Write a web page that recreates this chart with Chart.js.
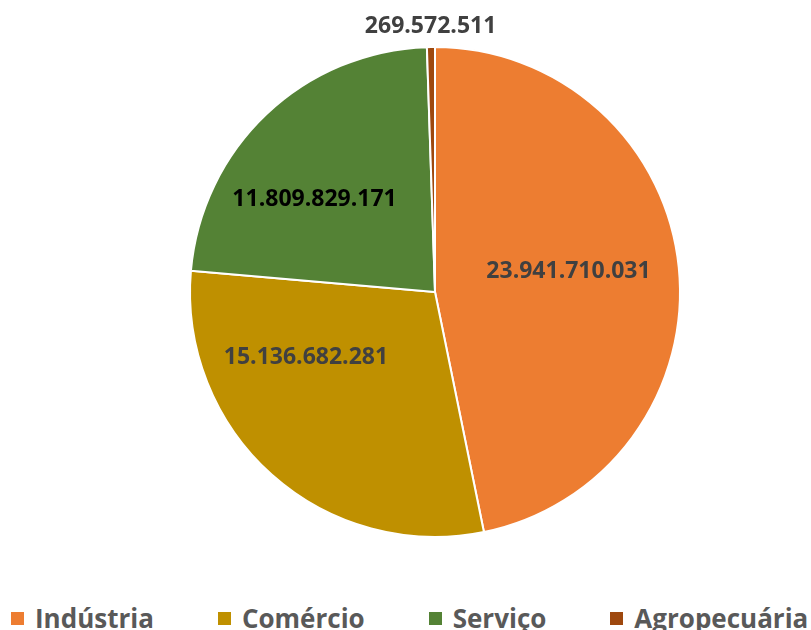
<!DOCTYPE html>
<html>
<head>
<meta charset="utf-8">
<script src="https://cdn.jsdelivr.net/npm/chart.js@4/dist/chart.umd.min.js"></script>
<style>
    body { margin: 0; background: #fff; overflow: hidden; }
    #wrap { position: relative; width: 811px; height: 630px; overflow: hidden; }
    #legenda {
        position: absolute; left: 11px; top: 600px;
        display: flex; align-items: center;
        font-family: "Open Sans", sans-serif; font-weight: 700; font-size: 26px; color: #595959;
        white-space: nowrap;
    }
    #legenda .item { display: flex; align-items: center; margin-right: 64px; }
    #legenda .caixa { width: 13px; height: 13px; margin-right: 11px; }
</style>
</head>
<body>
<div id="wrap">
    <canvas id="pizza" width="811" height="600"></canvas>
    <div id="legenda"></div>
</div>
<script>
// Valor adicionado por setor
const setores = ['Indústria', 'Comércio', 'Serviço', 'Agropecuária'];
const valores = [23941710031, 15136682281, 11809829171, 269572511];
const cores = ['#ED7D31', '#BF9000', '#548235', '#9E480E'];
const coresRotulo = ['#404040', '#404040', '#000000', '#404040'];

// Posição dos rótulos: deslocamento angular (graus) e fração do raio
const deslocAngulo = [-2.8, 21.5, -8.9, 0];
const fracaoRaio = [0.551, 0.59, 0.621, 1.086];

const formatar = v => v.toLocaleString('pt-BR');

const rotulos = {
    id: 'rotulos',
    afterDatasetsDraw(chart) {
        const ctx = chart.ctx;
        const arcos = chart.getDatasetMeta(0).data;
        ctx.save();
        ctx.font = 'bold 23px "Open Sans"';
        ctx.textAlign = 'center';
        ctx.textBaseline = 'middle';
        arcos.forEach((arco, i) => {
            const p = arco.getProps(['x', 'y', 'startAngle', 'endAngle', 'outerRadius'], true);
            const ang = (p.startAngle + p.endAngle) / 2 + deslocAngulo[i] * Math.PI / 180;
            const r = p.outerRadius * fracaoRaio[i];
            ctx.fillStyle = coresRotulo[i];
            ctx.fillText(formatar(valores[i]), p.x + Math.cos(ang) * r, p.y + Math.sin(ang) * r);
        });
        ctx.restore();
    }
};

const grafico = new Chart(document.getElementById('pizza'), {
    type: 'pie',
    data: {
        labels: setores,
        datasets: [{
            data: valores,
            backgroundColor: cores,
            borderColor: '#ffffff',
            borderWidth: 2
        }]
    },
    options: {
        responsive: false,
        animation: false,
        layout: { padding: { top: 46, left: 59, right: 0, bottom: 62 } },
        plugins: {
            legend: { display: false },
            tooltip: { enabled: false }
        }
    },
    plugins: [rotulos]
});

// Legenda em HTML abaixo do gráfico
const legenda = document.getElementById('legenda');
setores.forEach((nome, i) => {
    const item = document.createElement('div');
    item.className = 'item';
    item.innerHTML = '<span class="caixa" style="background:' + cores[i] + '"></span><span>' + nome + '</span>';
    legenda.appendChild(item);
});
</script>
</body>
</html>
